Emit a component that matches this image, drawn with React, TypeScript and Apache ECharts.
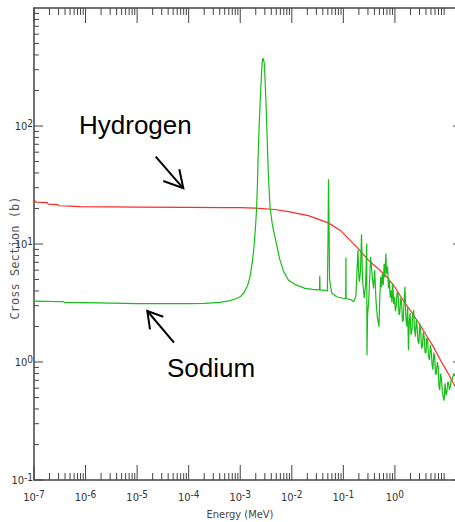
import React, { useEffect, useRef } from 'react';
import * as echarts from 'echarts';

const X_MIN = 1e-7;
const X_MAX = 20;
const Y_MIN = 0.1;
const Y_MAX = 1000;

const xDecades = [-7, -6, -5, -4, -3, -2, -1, 0];
const yDecades = [-1, 0, 1, 2];
const minorMultipliers = [2, 3, 4, 5, 6, 7, 8, 9];

const hydrogenEnergy = [
  1e-7, 1.1e-7, 1.8e-7, 1.9e-7, 2.9e-7, 3e-7, 5e-7, 8e-7, 1e-5, 1e-4, 5e-4, 1e-3, 2e-3, 4.7e-3,
  8.6e-3, 0.0209, 0.051, 0.086, 0.135, 0.2, 0.305, 0.45, 0.69, 1.0, 1.4, 1.96, 3, 4, 5.55, 8, 10,
  13.6, 20,
];
const hydrogenXs = [
  23.6, 22.6, 22.4, 21.8, 21.6, 21.1, 20.9, 20.7, 20.5, 20.45, 20.35, 20.3, 20.1, 19.6,
  18.8, 17.4, 15.1, 13.1, 10.8, 9.0, 7.3, 6.3, 5.28, 4.3, 3.4, 2.76, 2.1, 1.7, 1.35, 1.0, 0.85,
  0.66, 0.49,
];

const sodiumEnergy = [
  1e-7, 2e-7, 3.7e-7, 3.9e-7, 1e-6, 1e-5, 1e-4, 2e-4, 4e-4, 6e-4, 8e-4, 1e-3, 1.2e-3, 1.4e-3,
  1.55e-3, 1.7e-3, 1.85e-3, 2.0e-3, 2.08e-3, 2.16e-3, 2.24e-3, 2.35e-3, 2.45e-3, 2.53e-3, 2.61e-3,
  2.68e-3, 2.73e-3, 2.8e-3, 2.93e-3, 3.05e-3, 3.15e-3, 3.26e-3, 3.5e-3, 3.78e-3, 4.2e-3, 4.72e-3,
  5.3e-3, 5.9e-3, 7e-3, 8.57e-3, 0.012, 0.018, 0.025, 0.0327, 0.0345, 0.0349, 0.0353, 0.044, 0.049,
  0.0505, 0.0515, 0.0525, 0.054, 0.0594, 0.074, 0.0987, 0.111, 0.112, 0.113, 0.143, 0.158, 0.175,
  0.192, 0.2, 0.205, 0.215, 0.225, 0.235, 0.254, 0.27, 0.284, 0.287, 0.295, 0.31, 0.338, 0.364,
  0.385, 0.405, 0.43, 0.455, 0.49, 0.51, 0.53, 0.55, 0.57, 0.595, 0.617, 0.64, 0.667, 0.69, 0.72,
  0.75, 0.78, 0.81, 0.84, 0.875, 0.91, 0.945, 0.98, 1.02, 1.06, 1.1, 1.15, 1.2, 1.24, 1.3, 1.35,
  1.4, 1.45, 1.51, 1.57, 1.63, 1.7, 1.77, 1.83, 1.9, 1.97, 2.05, 2.14, 2.22, 2.31, 2.4, 2.5, 2.6,
  2.7, 2.8, 2.92, 3.04, 3.16, 3.28, 3.41, 3.55, 3.69, 3.85, 4.0, 4.15, 4.3, 4.5, 4.7, 4.88, 5.05,
  5.25, 5.46, 5.68, 5.9, 6.14, 6.38, 6.64, 6.9, 7.15, 7.4, 7.7, 8.0, 8.35, 8.7, 9.0, 9.4, 9.8, 10.2,
  10.6, 11, 11.4, 11.9, 12.3, 12.8, 13.9, 15, 20,
];
const sodiumXs = [
  3.28, 3.26, 3.25, 3.2, 3.18, 3.13, 3.12, 3.14, 3.2, 3.3, 3.42, 3.57, 3.9, 4.5,
  5.3, 6.8, 9.5, 15, 20.7, 33, 62.7, 110, 170, 230, 299,
  355, 375, 370, 340, 230, 160, 105, 40, 20.7, 14.5, 11.5,
  9, 7.3, 5.8, 4.96, 4.5, 4.21, 4.12, 4.08, 4.08, 5.37, 4.08, 4.04, 4.0,
  12, 35.3, 18, 5, 3.84, 3.57, 3.47, 3.45, 7.7, 3.45, 3.36, 3.24, 3.6,
  8.9, 5.2, 4.8, 6, 12.1, 5, 3.47, 4.5, 10.1, 1.14, 2.5, 3.27, 7.8, 5.28,
  4.2, 6.0, 3.3, 2.42, 1.99, 3.6, 5.28, 4.3, 5.6, 4.5, 6.8, 5.2, 8.3, 5.6, 6.44,
  4.2, 4.96, 3.5, 4.08, 3.2, 4.65, 3.1, 3.57, 2.7, 2.95, 3.9, 3.81, 2.5, 2.6, 3.5, 3.15,
  2.2, 2.26, 3.3, 4.34, 2.4, 2.0, 2.9, 1.26, 2.2, 2.6, 1.7, 1.86, 2.5, 2.76, 1.9, 1.64, 2.3,
  2.0, 1.5, 1.43, 2.1, 1.86, 1.3, 1.35, 1.8, 1.64, 1.2, 1.19, 1.6, 1.54, 1.1, 1.04, 1.4, 1.26,
  0.95, 0.86, 1.2, 1.11, 0.78, 0.8, 1.0, 0.91, 0.62, 0.58, 0.8, 0.71, 0.55, 0.5, 0.47, 0.66, 0.52, 0.56,
  0.68, 0.66, 0.58, 0.62, 0.7, 0.71, 0.8, 0.75, 0.7,
];

const hydrogenData = hydrogenEnergy.map((e, i) => [e, hydrogenXs[i]]);
const sodiumData = sodiumEnergy.map((e, i) => [e, sodiumXs[i]]);

const X_MAJOR_LEN = 15;
const X_MINOR_LEN = 7;
const Y_MAJOR_LEN = 9;
const Y_MINOR_LEN = 5;

const xTickData: number[][] = [];
xDecades.forEach((d) => {
  xTickData.push([Math.pow(10, d), Y_MIN, X_MAJOR_LEN]);
  minorMultipliers.forEach((m) => xTickData.push([m * Math.pow(10, d), Y_MIN, X_MINOR_LEN]));
});
const yTickData: number[][] = [];
yDecades.forEach((d) => {
  yTickData.push([X_MIN, Math.pow(10, d), Y_MAJOR_LEN]);
  minorMultipliers.forEach((m) => yTickData.push([X_MIN, m * Math.pow(10, d), Y_MINOR_LEN]));
});

const AXIS_COLOR = '#444';
const TICK_COLOR = '#444';
const LABEL_FONT = '"Liberation Sans Narrow", "DejaVu Sans Condensed", sans-serif';

function powLabel(maxExp: number) {
  return (v: number) => {
    const e = Math.log10(v);
    const r = Math.round(e);
    if (Math.abs(e - r) > 1e-6 || r > maxExp) return '';
    return `{b|10}{e|${r}}`;
  };
}

const labelRich = {
  b: { fontSize: 11, fontFamily: LABEL_FONT, color: '#333' },
  e: { fontSize: 10, fontFamily: LABEL_FONT, color: '#333', padding: [0, 0, 6, 0] },
};

export default function App() {
  const ref = useRef<HTMLDivElement>(null);
  useEffect(() => {
    if (!ref.current) return;
    const chart = echarts.init(ref.current, null, { renderer: 'svg' });
    const tickStyle = { stroke: TICK_COLOR, lineWidth: 1 };
    const option: any = {
      animation: false,
      backgroundColor: '#fff',
      grid: { left: 34, top: 8, width: 428, height: 472, outerBoundsMode: 'none', containLabel: false },
      xAxis: [
        {
          type: 'log', logBase: 10, min: X_MIN, max: X_MAX, position: 'bottom',
          axisLine: { show: true, onZero: false, lineStyle: { color: AXIS_COLOR, width: 1.5 } },
          axisTick: { show: false }, minorTick: { show: false }, splitLine: { show: false },
          axisLabel: { formatter: powLabel(0), rich: labelRich, margin: 9 },
        },
        {
          type: 'log', logBase: 10, min: X_MIN, max: X_MAX, position: 'top',
          axisLine: { show: true, onZero: false, lineStyle: { color: AXIS_COLOR, width: 1.5 } },
          axisTick: { show: false }, axisLabel: { show: false }, splitLine: { show: false },
        },
      ],
      yAxis: [
        {
          type: 'log', logBase: 10, min: Y_MIN, max: Y_MAX, position: 'left',
          axisLine: { show: true, onZero: false, lineStyle: { color: AXIS_COLOR, width: 1.5 } },
          axisTick: { show: false }, minorTick: { show: false }, splitLine: { show: false },
          axisLabel: { formatter: powLabel(2), rich: labelRich, margin: 1 },
        },
        {
          type: 'log', logBase: 10, min: Y_MIN, max: Y_MAX, position: 'right',
          axisLine: { show: true, onZero: false, lineStyle: { color: AXIS_COLOR, width: 1.5 } },
          axisTick: { show: false }, axisLabel: { show: false }, splitLine: { show: false },
        },
      ],
      series: [
        {
          name: 'Hydrogen', type: 'line', data: hydrogenData, showSymbol: false,
          lineStyle: { color: '#ff2a2a', width: 1.2 }, itemStyle: { color: '#ff2a2a' }, z: 2,
        },
        {
          name: 'Sodium', type: 'line', data: sodiumData, showSymbol: false,
          lineStyle: { color: '#16be16', width: 1.2 }, itemStyle: { color: '#16be16' }, z: 3,
        },
        {
          type: 'custom', coordinateSystem: 'cartesian2d', silent: true, clip: false, z: 5,
          encode: { x: 0, y: 1 }, data: xTickData,
          renderItem: (_p: any, api: any) => {
            const x = api.value(0);
            const len = api.value(2);
            const b = api.coord([x, Y_MIN]);
            const t = api.coord([x, Y_MAX]);
            return {
              type: 'group',
              children: [
                { type: 'line', shape: { x1: b[0], y1: b[1], x2: b[0], y2: b[1] - len }, style: tickStyle },
                { type: 'line', shape: { x1: t[0], y1: t[1], x2: t[0], y2: t[1] + len }, style: tickStyle },
              ],
            };
          },
        },
        {
          type: 'custom', coordinateSystem: 'cartesian2d', silent: true, clip: false, z: 5,
          encode: { x: 0, y: 1 }, data: yTickData,
          renderItem: (_p: any, api: any) => {
            const y = api.value(1);
            const len = api.value(2);
            const l = api.coord([X_MIN, y]);
            const r = api.coord([X_MAX, y]);
            return {
              type: 'group',
              children: [
                { type: 'line', shape: { x1: l[0], y1: l[1], x2: l[0] + len, y2: l[1] }, style: tickStyle },
                { type: 'line', shape: { x1: r[0], y1: r[1], x2: r[0] - len, y2: r[1] }, style: tickStyle },
              ],
            };
          },
        },
      ],
      graphic: [
        {
          type: 'text', x: 15, y: 258, rotation: Math.PI / 2,
          style: {
            text: 'Cross Section (b)', fill: '#555', fontSize: 12,
            fontFamily: '"DejaVu Sans Mono", monospace', align: 'center', verticalAlign: 'middle',
          },
        },
        {
          type: 'text', x: 240, y: 514,
          style: {
            text: 'Energy (MeV)', fill: '#444', fontSize: 11,
            fontFamily: LABEL_FONT, align: 'center', verticalAlign: 'middle',
          },
        },
        {
          type: 'text', x: 79, y: 125,
          style: {
            text: 'Hydrogen', fill: '#000', fontSize: 26,
            fontFamily: '"Liberation Sans", Arial, sans-serif', align: 'left', verticalAlign: 'middle',
          },
        },
        {
          type: 'text', x: 167, y: 368,
          style: {
            text: 'Sodium', fill: '#000', fontSize: 26,
            fontFamily: '"Liberation Sans", Arial, sans-serif', align: 'left', verticalAlign: 'middle',
          },
        },
        { type: 'line', shape: { x1: 155.7, y1: 156.7, x2: 183.3, y2: 188.3 }, style: { stroke: '#000', lineWidth: 2 } },
        { type: 'polyline', shape: { points: [[163.3, 181], [183.3, 188.3], [179.3, 169.3]] }, style: { stroke: '#000', lineWidth: 2, fill: null } },
        { type: 'line', shape: { x1: 174, y1: 342.7, x2: 147.3, y2: 311 }, style: { stroke: '#000', lineWidth: 2 } },
        { type: 'polyline', shape: { points: [[150, 329.3], [147.3, 311], [163.3, 316.7]] }, style: { stroke: '#000', lineWidth: 2, fill: null } },
      ],
    };
    chart.setOption(option);
    return () => chart.dispose();
  }, []);
  return (
    <div
      ref={ref}
      style={{ position: 'fixed', left: 0, top: 0, width: 455, height: 522, background: '#fff' }}
    />
  );
}
